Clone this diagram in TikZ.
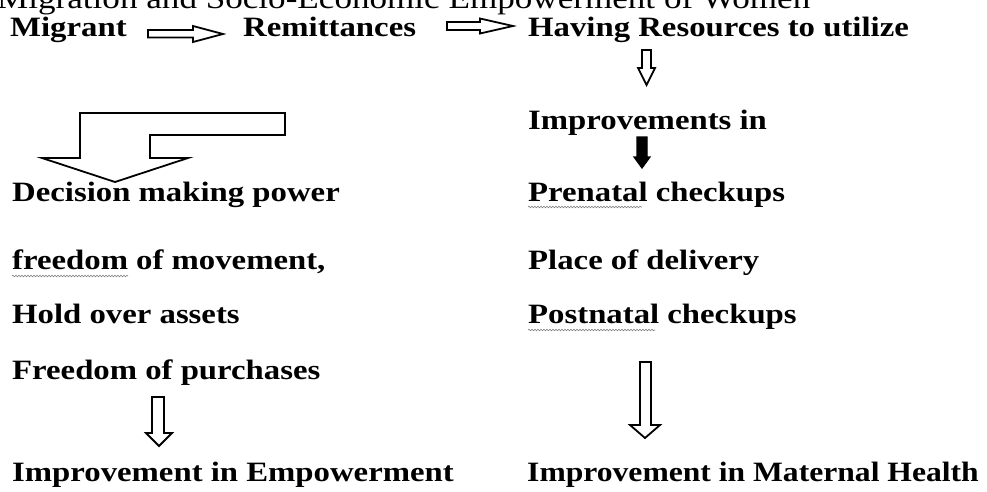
\documentclass[tikz,border=0pt]{standalone}
\usepackage{fontspec}
\setmainfont[FakeStretch=1.17]{Liberation Serif}
\usetikzlibrary{decorations.pathmorphing}
\begin{document}
\begin{tikzpicture}[x=1pt,y=-1pt,
  lbl/.style={anchor=base west, inner sep=0pt, font=\fontsize{28}{30}\selectfont\bfseries},
  ttl/.style={anchor=base west, inner sep=0pt, font=\fontsize{30}{32}\selectfont},
  blk/.style={draw=black, line width=1.8pt, line join=miter, fill=white},
  blkfill/.style={draw=black, line width=1.2pt, line join=miter, fill=black},
  wavy/.style={draw=gray, line width=0.6pt, decorate, decoration={snake, amplitude=0.8pt, segment length=3pt}}]
\useasboundingbox (0,0) rectangle (987,491);
\clip (0,0) rectangle (987,491);
\fill[white] (0,0) rectangle (987,491);
% title
\node[ttl] (title) at (-3,8) {Migration and Socio-Economic Empowerment of Women};
% top row
\node[lbl] (mig) at (10,36) {Migrant};
\node[lbl] (rem) at (243,36) {Remittances};
\node[lbl] (hav) at (528,36) {Having Resources to utilize};
% right column
\node[lbl] (imp) at (528,129) {Improvements in};
\node[lbl] (pre) at (528,201) {Prenatal checkups};
\node[lbl] (pla) at (528,269) {Place of delivery};
\node[lbl] (pos) at (528,323) {Postnatal checkups};
\node[lbl] (mh) at (527,481) {\scalebox{0.965}[1]{Improvement in Maternal Health}};
% left column
\node[lbl] (dec) at (12,201) {Decision making power};
\node[lbl] (fre) at (12,269) {freedom of movement,};
\node[lbl] (hol) at (12,323) {Hold over assets};
\node[lbl] (fop) at (12,379) {Freedom of purchases};
\node[lbl] (emp) at (12,481) {Improvement in Empowerment};
% spell-check underlines
\draw[wavy] (12,276) -- (128,276);
\draw[wavy] (528,207) -- (642,207);
\draw[wavy] (528,330) -- (655,330);
% block arrows
\draw[blk] (148,30) -- (193,30) -- (193,26) -- (223,34) -- (193,42) -- (193,37.5) -- (148,37.5) -- cycle;
\draw[blk] (447,22) -- (480,22) -- (480,18.5) -- (513,26) -- (480,33.5) -- (480,30) -- (447,30) -- cycle;
\draw[blk] (642,50) -- (651,50) -- (651,68) -- (655,68) -- (646.5,85) -- (638,68) -- (642,68) -- cycle;
\draw[blkfill] (637,137) -- (647,137) -- (647,157) -- (650,157) -- (642,168) -- (634,157) -- (637,157) -- cycle;
\draw[blk] (80,113) -- (285,113) -- (285,135) -- (150,135) -- (150,158) -- (188,158) -- (115,182) -- (42,158) -- (80,158) -- cycle;
\draw[blk] (152,397) -- (164,397) -- (164,433) -- (172,433) -- (159,446) -- (146,433) -- (152,433) -- cycle;
\draw[blk] (640,362) -- (651,362) -- (651,425) -- (660,425) -- (645,438) -- (630,425) -- (640,425) -- cycle;
\end{tikzpicture}
\end{document}
